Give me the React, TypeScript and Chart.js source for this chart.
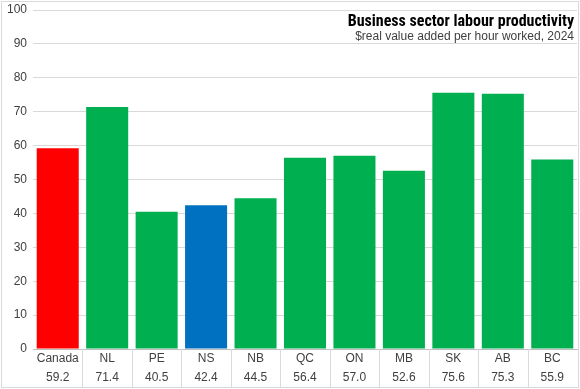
import React, { useEffect, useRef } from "react";
import { Chart, registerables } from "chart.js";

Chart.register(...registerables);

const categories = ["Canada", "NL", "PE", "NS", "NB", "QC", "ON", "MB", "SK", "AB", "BC"];
const values = [59.2, 71.4, 40.5, 42.4, 44.5, 56.4, 57.0, 52.6, 75.6, 75.3, 55.9];
const valueLabels = ["59.2", "71.4", "40.5", "42.4", "44.5", "56.4", "57.0", "52.6", "75.6", "75.3", "55.9"];
const barColors = ["#FF0000", "#00B050", "#00B050", "#0070C0", "#00B050", "#00B050", "#00B050", "#00B050", "#00B050", "#00B050", "#00B050"];
const titleText = "Business sector labour productivity";
const subtitleText = "$real value added per hour worked, 2024";

const decorPlugin = {
  id: "decor",
  afterDraw(chart: any) {
    const { ctx, chartArea, scales } = chart;
    const x = scales.x;
    ctx.save();
    ctx.strokeStyle = "#d9d9d9";
    ctx.lineWidth = 1;
    for (let i = 0; i < categories.length - 1; i++) {
      const px = Math.round((x.getPixelForValue(i) + x.getPixelForValue(i + 1)) / 2) + 0.5;
      ctx.beginPath();
      ctx.moveTo(px, chartArea.bottom);
      ctx.lineTo(px, chart.height - 2);
      ctx.stroke();
    }
    ctx.strokeRect(1.5, 1.5, chart.width - 3, chart.height - 3);
    ctx.textAlign = "right";
    ctx.textBaseline = "alphabetic";
    ctx.fillStyle = "#000000";
    ctx.font = "bold 16px 'Liberation Sans Narrow', 'Roboto Condensed', 'DejaVu Sans Condensed', sans-serif";
    ctx.fillText(titleText, chartArea.right - 3, 26);
    ctx.fillStyle = "#404040";
    ctx.font = "12px 'Liberation Sans', Arial, sans-serif";
    ctx.fillText(subtitleText, chartArea.right - 3, 40);
    ctx.restore();
  },
};

export default function App() {
  const ref = useRef<HTMLCanvasElement | null>(null);
  useEffect(() => {
    if (!ref.current) return;
    const chart = new Chart(ref.current, {
      type: "bar",
      data: {
        labels: categories.map((c, i) => [c, valueLabels[i]]),
        datasets: [
          {
            data: values,
            backgroundColor: barColors,
            barPercentage: 0.85,
            categoryPercentage: 1,
          },
        ],
      },
      options: {
        animation: false,
        responsive: false,
        maintainAspectRatio: false,
        layout: { padding: { top: 10, right: 3, bottom: 4, left: 0 } },
        plugins: {
          legend: { display: false },
          tooltip: { enabled: false },
        },
        scales: {
          x: {
            grid: { display: false, drawTicks: false },
            border: { display: true, color: "#bfbfbf" },
            ticks: {
              color: "#404040",
              font: { family: "'Liberation Sans', Arial, sans-serif", size: 12, lineHeight: 1.6 },
              padding: 0,
              maxRotation: 0,
              autoSkip: false,
            },
            afterFit(scale: any) {
              scale.height = 36;
              scale.paddingLeft = 0;
              scale.paddingRight = 0;
            },
          },
          y: {
            min: 0,
            max: 100,
            ticks: {
              stepSize: 10,
              color: "#404040",
              font: { family: "'Liberation Sans', Arial, sans-serif", size: 12 },
              padding: 6,
            },
            grid: { color: "#d9d9d9", drawTicks: false },
            border: { display: false },
            afterFit(scale: any) {
              scale.width = 33;
              scale.paddingTop = 0;
              scale.paddingBottom = 0;
            },
          },
        },
      },
      plugins: [decorPlugin],
    });
    return () => chart.destroy();
  }, []);
  return (
    <div style={{ position: "fixed", left: 0, top: 0, width: 580, height: 389, background: "#fff" }}>
      <canvas ref={ref} width={580} height={389} style={{ display: "block" }} />
    </div>
  );
}
